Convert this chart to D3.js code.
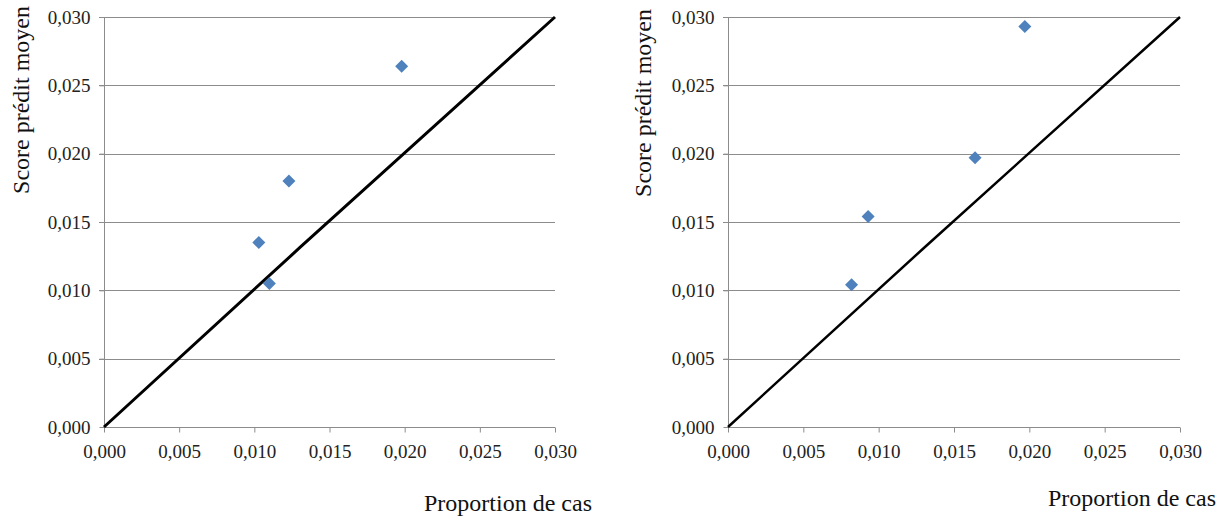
<!DOCTYPE html>
<html><head><meta charset="utf-8">
<script src="https://cdn.jsdelivr.net/npm/d3@7"></script>
<style>body{margin:0;background:#fff;}svg{display:block;}</style>
</head><body>
<svg id="chart" width="1227" height="517"></svg>
<script>
const tickValues = [0, 0.005, 0.010, 0.015, 0.020, 0.025, 0.030];
const tickLabels = ["0,000", "0,005", "0,010", "0,015", "0,020", "0,025", "0,030"];
const leftX = [0.0103, 0.0110, 0.0123, 0.0198];
const leftY = [0.0135, 0.0105, 0.0180, 0.0264];
const rightX = [0.0082, 0.0093, 0.0164, 0.0197];
const rightY = [0.0104, 0.0154, 0.0197, 0.0293];
const diagX = [0, 0.013, 0.030];
const diagY = [0, 0.0131, 0.030];
const xTitle = "Proportion de cas";
const yTitle = "Score prédit moyen";

const svg = d3.select("#chart");
const font = "Liberation Serif, DejaVu Serif, serif";
const gridColor = "#8c8c8c";

function panel(cfg, xs, ys, lineW) {
  const g = svg.append("g");
  const x = d3.scaleLinear().domain([0, 0.03]).range([cfg.x0, cfg.x1]);
  const y = d3.scaleLinear().domain([0, 0.03]).range([cfg.y0, cfg.y1]);
  const fmt = v => tickLabels[tickValues.indexOf(v)];

  g.selectAll("line.grid").data(tickValues.slice(1)).join("line")
    .attr("x1", cfg.x0 - 5).attr("x2", cfg.x1)
    .attr("y1", d => Math.round(y(d)) + 0.5).attr("y2", d => Math.round(y(d)) + 0.5)
    .attr("stroke", gridColor).attr("stroke-width", 1);

  const ya = g.append("g").attr("transform", `translate(${cfg.x0 + 0.5},0)`)
    .call(d3.axisLeft(y).tickValues(tickValues).tickFormat(fmt).tickSize(5).tickPadding(9));
  const xa = g.append("g").attr("transform", `translate(0,${cfg.y0 + 0.5})`)
    .call(d3.axisBottom(x).tickValues(tickValues).tickFormat(fmt).tickSize(5).tickPadding(12));
  [ya, xa].forEach(a => {
    a.attr("font-family", null).attr("font-size", null);
    a.selectAll("path,line").attr("stroke", gridColor).attr("stroke-width", 1);
    a.select("path").attr("d", a === ya ? `M0,${cfg.y0}V${cfg.y1}` : `M${cfg.x0},0H${cfg.x1}`);
    a.selectAll("text").style("font-family", font).style("font-size", "19px").attr("fill", "#222");
  });

  const line = d3.line().x(d => x(d[0])).y(d => y(d[1]));
  g.append("path").datum(diagX.map((v, i) => [v, diagY[i]]))
    .attr("d", line).attr("fill", "none").attr("stroke", "#000").attr("stroke-width", lineW);

  const r = 6.5;
  g.selectAll("path.pt").data(xs.map((v, i) => [v, ys[i]])).join("path")
    .attr("d", d => `M${x(d[0])},${y(d[1]) - r}L${x(d[0]) + r},${y(d[1])}L${x(d[0])},${y(d[1]) + r}L${x(d[0]) - r},${y(d[1])}Z`)
    .attr("fill", "#4f81bd");

  g.append("text").attr("x", cfg.xtx).attr("y", cfg.xty).attr("text-anchor", "middle")
    .style("font-family", font).style("font-size", "24px").attr("fill", "#111").text(xTitle);
  g.append("text").attr("transform", `translate(${cfg.ytx},${cfg.yty}) rotate(-90)`)
    .attr("text-anchor", "middle").style("font-family", font).style("font-size", "24px")
    .attr("fill", "#111").text(yTitle);
}

panel({x0: 104, x1: 555, y0: 427, y1: 17, xtx: 508, xty: 511, ytx: 29, yty: 100}, leftX, leftY, 3);
panel({x0: 728, x1: 1180, y0: 427, y1: 17, xtx: 1132, xty: 506, ytx: 651, yty: 103}, rightX, rightY, 2.5);
</script>
</body></html>
